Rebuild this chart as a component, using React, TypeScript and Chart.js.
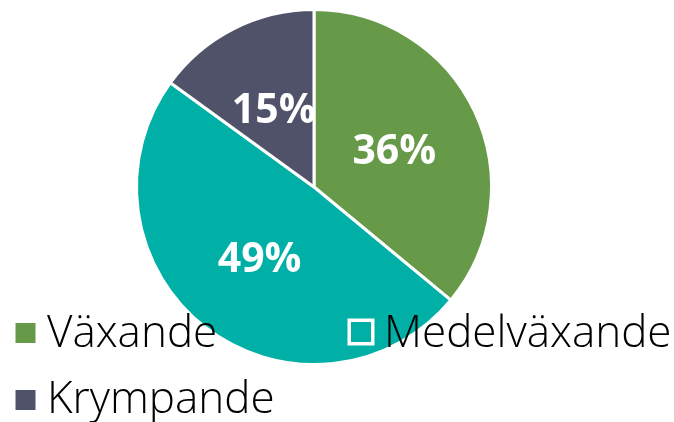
import React, { useEffect, useRef } from "react";
import { Chart, registerables } from "chart.js";

Chart.register(...registerables);

const categories = ["Växande", "Medelväxande", "Krympande"];
const values = [36, 49, 15];
const valueLabels = ["36%", "49%", "15%"];
const colors = ["#669A48", "#00B0A6", "#4F5268"];

const overlayPlugin = {
  id: "overlay",
  afterDatasetsDraw(chart: any) {
    const ctx = chart.ctx;
    const meta = chart.getDatasetMeta(0);
    ctx.save();
    ctx.fillStyle = "#ffffff";
    ctx.font = "bold 41px 'Open Sans'";
    ctx.textAlign = "center";
    ctx.textBaseline = "middle";
    meta.data.forEach((arc: any, i: number) => {
      const p = arc.getCenterPoint();
      ctx.fillText(valueLabels[i], p.x, p.y + 3);
    });
    ctx.restore();
  },
  afterDraw(chart: any) {
    const ctx = chart.ctx;
    const pos = [
      { bx: 25.5, by: 333, tx: 47, ty: 347 },
      { bx: 361, by: 332, tx: 384, ty: 347 },
      { bx: 25.5, by: 400, tx: 47, ty: 413 },
    ];
    ctx.save();
    ctx.font = "300 44px 'Open Sans'";
    ctx.textBaseline = "alphabetic";
    ctx.textAlign = "left";
    categories.forEach((c, i) => {
      const p = pos[i];
      const s = 23.5;
      ctx.fillStyle = colors[i];
      ctx.fillRect(p.bx - s / 2, p.by - s / 2, s, s);
      ctx.strokeStyle = "#ffffff";
      ctx.lineWidth = 3.5;
      ctx.strokeRect(p.bx - s / 2, p.by - s / 2, s, s);
      ctx.fillStyle = "#000000";
      ctx.fillText(c, p.tx, p.ty);
    });
    ctx.restore();
  },
};

export default function App() {
  const ref = useRef<HTMLCanvasElement>(null);
  useEffect(() => {
    document.body.style.margin = "0";
    const chart = new Chart(ref.current!, {
      type: "pie",
      data: {
        labels: categories,
        datasets: [
          {
            data: values,
            backgroundColor: colors,
            borderColor: "#ffffff",
            borderWidth: 3,
          },
        ],
      },
      options: {
        animation: false,
        responsive: false,
        layout: { padding: { left: 135, top: 8, right: 181, bottom: 56 } },
        plugins: {
          legend: { display: false },
          tooltip: { enabled: false },
        },
      },
      plugins: [overlayPlugin],
    });
    return () => chart.destroy();
  }, []);
  return (
    <div style={{ width: 674, height: 422, background: "#fff" }}>
      <canvas ref={ref} width={674} height={422} />
    </div>
  );
}
